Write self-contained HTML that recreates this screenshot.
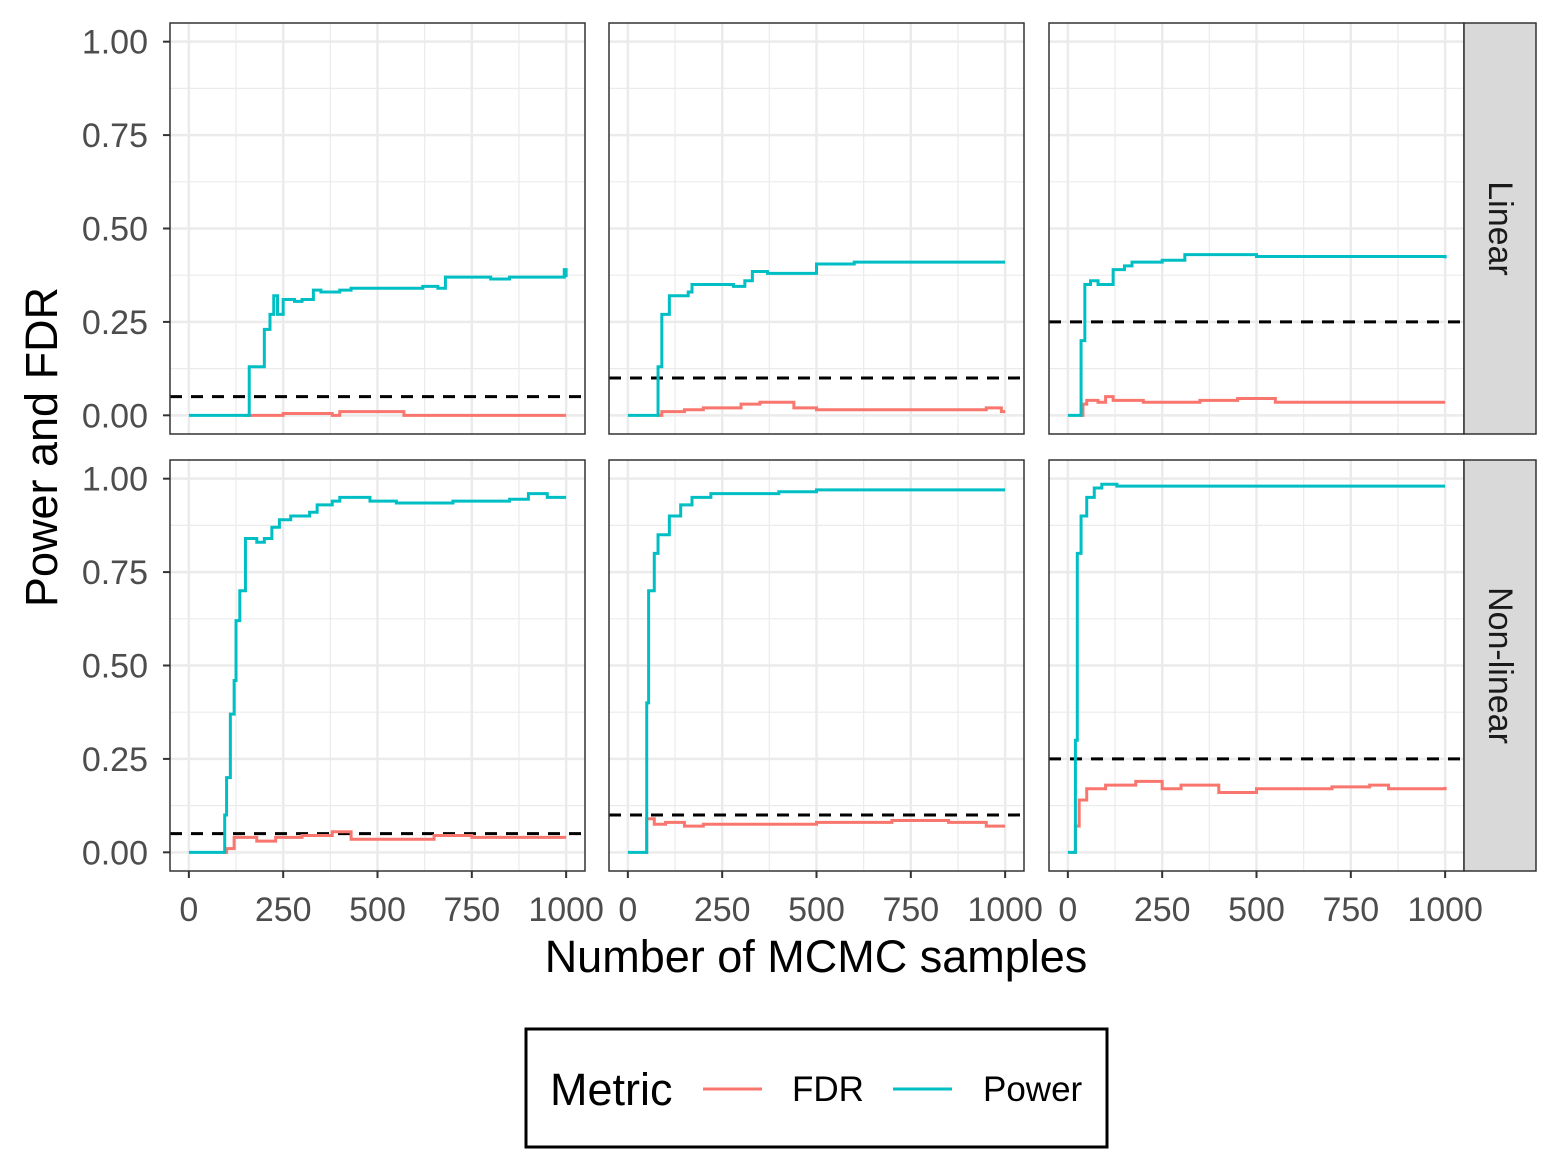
<!DOCTYPE html>
<html><head><meta charset="utf-8"><style>
body{margin:0;background:#fff}
svg{display:block;font-family:"Liberation Sans",Arial,sans-serif}
</style></head><body>
<svg id="chart" width="1560" height="1170"></svg>
<script>
const xTicks=[0,250,500,750,1000];
const yTicks=[0,0.25,0.5,0.75,1];
const yTickLabels=["0.00","0.25","0.50","0.75","1.00"];
const rowLabels=["Linear","Non-linear"];
const thresholds=[[0.05,0.10,0.25],[0.05,0.10,0.25]];
const p11x=[0,150,160,200,215,225,235,250,280,300,330,350,400,430,600,620,660,680,800,850,995,1000];
const p11y=[0,0,0.13,0.23,0.27,0.32,0.27,0.31,0.305,0.31,0.335,0.33,0.335,0.34,0.34,0.345,0.34,0.37,0.365,0.37,0.39,0.37];
const f11x=[150,250,380,400,570,1000];
const f11y=[0,0.005,0,0.01,0,0];
const p12x=[0,75,80,90,110,160,170,280,310,330,370,490,500,600,1000];
const p12y=[0,0,0.13,0.27,0.32,0.33,0.35,0.345,0.36,0.385,0.38,0.38,0.405,0.41,0.41];
const f12x=[75,90,150,200,300,350,440,500,900,950,990,1000];
const f12y=[0,0.01,0.015,0.02,0.03,0.035,0.02,0.015,0.015,0.02,0.01,0.01];
const p13x=[0,30,35,45,60,80,120,150,170,250,310,500,1000];
const p13y=[0,0,0.2,0.35,0.36,0.35,0.39,0.40,0.41,0.415,0.43,0.425,0.42];
const f13x=[30,40,50,80,100,120,200,350,450,550,1000];
const f13y=[0,0.03,0.04,0.035,0.05,0.04,0.035,0.04,0.045,0.035,0.035];
const p21x=[0,90,95,100,110,120,125,135,150,180,200,220,240,270,320,340,380,400,480,550,700,850,900,950,1000];
const p21y=[0,0,0.1,0.2,0.37,0.46,0.62,0.7,0.84,0.83,0.84,0.87,0.89,0.90,0.91,0.93,0.94,0.95,0.94,0.935,0.94,0.945,0.96,0.95,0.95];
const f21x=[90,100,120,180,230,300,380,430,600,650,750,1000];
const f21y=[0,0.01,0.04,0.03,0.04,0.045,0.055,0.035,0.035,0.045,0.04,0.04];
const p22x=[0,45,50,55,70,80,110,140,170,220,300,400,500,1000];
const p22y=[0,0,0.4,0.7,0.8,0.85,0.9,0.93,0.95,0.96,0.96,0.965,0.97,0.97];
const f22x=[45,50,70,100,150,200,500,700,850,950,1000];
const f22y=[0,0.09,0.075,0.08,0.07,0.075,0.08,0.085,0.08,0.07,0.07];
const p23x=[0,15,20,25,35,50,70,90,130,1000];
const p23y=[0,0,0.3,0.8,0.9,0.95,0.975,0.985,0.98,0.98];
const f23x=[15,20,30,50,100,180,250,300,400,500,700,800,850,1000];
const f23y=[0,0.07,0.14,0.17,0.18,0.19,0.17,0.18,0.16,0.17,0.175,0.18,0.17,0.175];
const powerX=[[p11x,p12x,p13x],[p21x,p22x,p23x]];
const powerY=[[p11y,p12y,p13y],[p21y,p22y,p23y]];
const fdrX=[[f11x,f12x,f13x],[f21x,f22x,f23x]];
const fdrY=[[f11y,f12y,f13y],[f21y,f22y,f23y]];

const svg=document.getElementById('chart');
const NS="http://www.w3.org/2000/svg";
function mk(tag,attrs,parent){const e=document.createElementNS(NS,tag);for(const k in attrs)e.setAttribute(k,attrs[k]);(parent||svg).appendChild(e);return e;}
const colL=[170,609,1049], pw=415, rowT=[23,460], ph=411;
function sx(c,v){return colL[c]+pw*(v+50)/1100;}
function sy(r,v){return rowT[r]+ph*(1.05-v)/1.1;}
function stepPath(c,r,xs,ys){let d="";for(let i=0;i<xs.length;i++){const X=sx(c,xs[i]),Y=sy(r,ys[i]);if(i===0)d+="M"+X+","+Y;else d+="H"+X+"V"+Y;}return d;}
for(let r=0;r<2;r++){
 for(let c=0;c<3;c++){
  const g=mk('g',{});
  
  
  mk('rect',{x:colL[c],y:rowT[r],width:pw,height:ph,fill:'#fff'},g);
  for(let i=0;i<xTicks.length-1;i++){const m=(xTicks[i]+xTicks[i+1])/2;mk('line',{x1:sx(c,m),x2:sx(c,m),y1:rowT[r],y2:rowT[r]+ph,stroke:'#ebebeb','stroke-width':1.2},g);}
  for(let i=0;i<yTicks.length-1;i++){const m=(yTicks[i]+yTicks[i+1])/2;mk('line',{x1:colL[c],x2:colL[c]+pw,y1:sy(r,m),y2:sy(r,m),stroke:'#ebebeb','stroke-width':1.2},g);}
  xTicks.forEach(t=>mk('line',{x1:sx(c,t),x2:sx(c,t),y1:rowT[r],y2:rowT[r]+ph,stroke:'#ebebeb','stroke-width':2.5},g));
  yTicks.forEach(t=>mk('line',{x1:colL[c],x2:colL[c]+pw,y1:sy(r,t),y2:sy(r,t),stroke:'#ebebeb','stroke-width':2.5},g));
  const th=mk('line',{x1:colL[c],x2:colL[c]+pw,y1:sy(r,thresholds[r][c]),y2:sy(r,thresholds[r][c]),stroke:'#000','stroke-width':3,'stroke-dasharray':'12,9'},g);
  
  
  const fp=mk('path',{d:stepPath(c,r,fdrX[r][c],fdrY[r][c]),fill:'none',stroke:'#F8766D','stroke-width':3},g);
  
  
  const pp=mk('path',{d:stepPath(c,r,powerX[r][c],powerY[r][c]),fill:'none',stroke:'#00BFC4','stroke-width':3},g);
  
  
  mk('rect',{x:colL[c],y:rowT[r],width:pw,height:ph,fill:'none',stroke:'#333','stroke-width':1.5},g);
  if(c===0){yTicks.forEach((t,i)=>{mk('line',{x1:colL[c]-7,x2:colL[c],y1:sy(r,t),y2:sy(r,t),stroke:'#333','stroke-width':2},g);
   const tx=mk('text',{x:colL[c]-22,y:sy(r,t)+12,'text-anchor':'end','font-size':34,fill:'#4d4d4d'},g);tx.textContent=yTickLabels[i];
   
   });}
  if(r===1){xTicks.forEach(t=>{mk('line',{x1:sx(c,t),x2:sx(c,t),y1:rowT[r]+ph,y2:rowT[r]+ph+7,stroke:'#333','stroke-width':2},g);
   const tx=mk('text',{x:sx(c,t),y:rowT[r]+ph+50,'text-anchor':'middle','font-size':34,fill:'#4d4d4d'},g);tx.textContent=t;
   
   });}
 }
 const sg=mk('g',{});
 
 
 mk('rect',{x:1464,y:rowT[r],width:72,height:ph,fill:'#d9d9d9',stroke:'#333','stroke-width':1.5},sg);
 const st=mk('text',{x:1500,y:rowT[r]+ph/2,'text-anchor':'middle','font-size':34,fill:'#1a1a1a',transform:'rotate(90 1500 '+(rowT[r]+ph/2)+')','dominant-baseline':'central'},sg);
 st.textContent=rowLabels[r];
}
</script>
<svg style="position:absolute;left:0;top:0" width="1560" height="1170">
<text x="816" y="972" text-anchor="middle" font-size="45" fill="#000" font-family="Liberation Sans, sans-serif">Number of MCMC samples</text>
<text x="0" y="0" text-anchor="middle" font-size="45" fill="#000" font-family="Liberation Sans, sans-serif" transform="translate(57 447) rotate(-90)">Power and FDR</text>
<g>
<rect x="526" y="1029" width="581" height="118" fill="#fff" stroke="#000" stroke-width="3"/>
<text x="550" y="1105" font-size="45" font-family="Liberation Sans, sans-serif">Metric</text>
<line x1="703" x2="762" y1="1089" y2="1089" stroke="#F8766D" stroke-width="3"/>
<text x="792" y="1101" font-size="35" font-family="Liberation Sans, sans-serif">FDR</text>
<line x1="893" x2="952" y1="1089" y2="1089" stroke="#00BFC4" stroke-width="3"/>
<text x="983" y="1101" font-size="35" font-family="Liberation Sans, sans-serif">Power</text>
</g>
</svg>
</body></html>
